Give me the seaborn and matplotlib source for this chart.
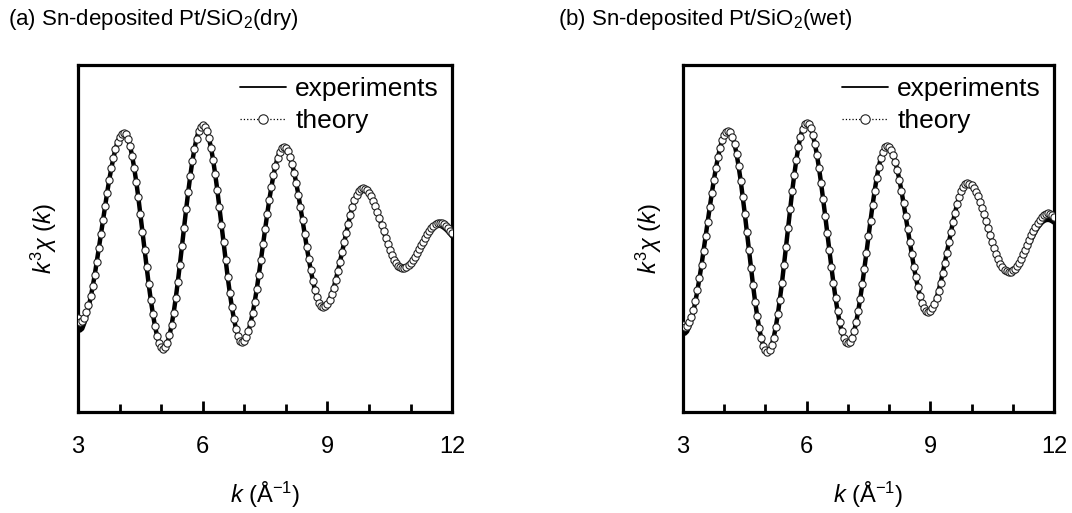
import numpy as np
import matplotlib
matplotlib.use("Agg")
import matplotlib.pyplot as plt
import seaborn as sns

# k grid of the spectra (0.05 A^-1 steps, 3 -> 12)
k_values = np.linspace(3.0, 12.0, 181)

# k^3 chi(k), arbitrary units (0 = bottom of frame, 100 = top)
dry_theory = [
    27.0, 26.0, 26.3, 27.2, 28.7, 30.7, 33.3, 36.3, 39.6, 43.3,
    47.2, 51.2, 55.3, 59.3, 63.2, 66.9, 70.2, 73.2, 75.8, 77.8,
    79.3, 80.2, 80.5, 80.1, 78.8, 76.7, 73.9, 70.4, 66.4, 61.9,
    57.0, 51.9, 46.8, 41.7, 36.8, 32.3, 28.3, 24.8, 22.0, 19.9,
    18.6, 18.2, 18.6, 19.9, 22.1, 25.0, 28.6, 32.8, 37.5, 42.5,
    47.8, 53.1, 58.4, 63.4, 68.1, 72.3, 75.9, 78.8, 80.9, 82.3,
    82.7, 82.3, 81.0, 78.9, 76.1, 72.6, 68.5, 64.0, 59.1, 54.0,
    48.9, 43.8, 38.9, 34.4, 30.3, 26.8, 24.0, 21.9, 20.6, 20.2,
    20.5, 21.6, 23.3, 25.6, 28.4, 31.8, 35.5, 39.6, 43.9, 48.3,
    52.7, 57.0, 61.1, 64.8, 68.2, 71.0, 73.3, 75.0, 76.1, 76.4,
    76.1, 75.2, 73.6, 71.5, 69.0, 65.9, 62.6, 59.0, 55.3, 51.4,
    47.7, 44.1, 40.8, 37.7, 35.2, 33.0, 31.5, 30.6, 30.3, 30.5,
    31.2, 32.4, 33.9, 35.8, 38.1, 40.6, 43.2, 46.0, 48.9, 51.7,
    54.3, 56.8, 59.1, 61.0, 62.5, 63.7, 64.4, 64.6, 64.4, 64.0,
    63.2, 62.2, 60.9, 59.4, 57.7, 55.9, 54.0, 52.1, 50.2, 48.4,
    46.7, 45.2, 43.9, 42.9, 42.1, 41.7, 41.5, 41.6, 41.9, 42.4,
    43.0, 43.8, 44.8, 45.8, 46.9, 48.0, 49.1, 50.2, 51.3, 52.2,
    53.0, 53.6, 54.1, 54.4, 54.5, 54.4, 54.1, 53.6, 53.0, 52.3,
    51.6,
]
dry_exp = [
    24.5, 23.5, 24.0, 25.6, 27.6, 30.0, 32.8, 36.0, 39.4, 43.2,
    47.2, 51.2, 55.3, 59.3, 63.2, 66.9, 70.2, 73.2, 75.8, 77.8,
    79.3, 80.2, 80.5, 80.1, 78.8, 76.7, 73.9, 70.4, 66.4, 61.9,
    57.0, 51.9, 46.8, 41.7, 36.8, 32.3, 28.3, 24.8, 22.0, 19.9,
    18.6, 18.2, 18.6, 19.9, 22.1, 25.0, 28.6, 32.8, 37.5, 42.5,
    47.8, 53.1, 58.4, 63.4, 68.1, 72.3, 75.9, 78.8, 80.9, 82.3,
    82.7, 82.3, 81.0, 78.9, 76.1, 72.6, 68.5, 64.0, 59.1, 54.0,
    48.9, 43.8, 38.9, 34.4, 30.3, 26.8, 24.0, 21.9, 20.6, 20.2,
    20.5, 21.6, 23.3, 25.6, 28.4, 31.8, 35.5, 39.6, 43.9, 48.3,
    52.7, 57.0, 61.1, 64.8, 68.2, 71.0, 73.3, 75.0, 76.1, 76.4,
    76.1, 75.2, 73.6, 71.5, 69.0, 65.9, 62.6, 59.0, 55.3, 51.4,
    47.7, 44.1, 40.8, 37.7, 35.2, 33.0, 31.5, 30.6, 30.3, 30.5,
    31.2, 32.4, 33.9, 35.8, 38.1, 40.6, 43.2, 46.0, 48.9, 51.7,
    54.3, 56.8, 59.1, 61.0, 62.5, 63.7, 64.4, 64.6, 64.4, 64.0,
    63.2, 62.2, 60.9, 59.4, 57.7, 55.9, 54.0, 52.1, 50.2, 48.4,
    46.7, 45.2, 43.9, 42.9, 42.1, 41.7, 41.5, 41.6, 41.9, 42.4,
    42.8, 43.5, 44.4, 45.4, 46.4, 47.5, 48.6, 49.7, 50.7, 51.7,
    52.6, 53.1, 53.5, 53.7, 53.7, 53.5, 53.1, 52.6, 52.0, 51.3,
    50.6,
]
wet_theory = [
    25.1, 24.5, 24.8, 25.8, 27.3, 29.4, 32.1, 35.2, 38.7, 42.5,
    46.5, 50.7, 54.9, 59.1, 63.1, 66.9, 70.4, 73.5, 76.2, 78.3,
    79.8, 80.8, 81.1, 80.7, 79.4, 77.3, 74.4, 70.8, 66.7, 62.0,
    57.1, 51.9, 46.6, 41.4, 36.5, 31.8, 27.7, 24.1, 21.2, 19.1,
    17.8, 17.4, 17.8, 19.2, 21.4, 24.4, 28.1, 32.4, 37.1, 42.3,
    47.7, 53.1, 58.5, 63.7, 68.4, 72.7, 76.4, 79.4, 81.6, 83.0,
    83.4, 83.0, 81.8, 79.9, 77.3, 74.1, 70.3, 66.0, 61.4, 56.6,
    51.6, 46.6, 41.8, 37.2, 32.9, 29.1, 25.9, 23.3, 21.4, 20.2,
    19.8, 20.2, 21.3, 23.2, 25.8, 29.0, 32.7, 36.8, 41.3, 45.9,
    50.6, 55.2, 59.7, 63.8, 67.5, 70.7, 73.3, 75.1, 76.3, 76.7,
    76.4, 75.5, 74.1, 72.1, 69.7, 66.9, 63.7, 60.2, 56.5, 52.8,
    49.1, 45.4, 41.9, 38.8, 35.9, 33.5, 31.5, 30.1, 29.2, 28.9,
    29.2, 29.9, 31.1, 32.8, 34.9, 37.3, 40.0, 42.9, 45.9, 48.9,
    51.9, 54.8, 57.5, 59.9, 62.0, 63.7, 64.9, 65.6, 65.9, 65.7,
    65.3, 64.5, 63.5, 62.2, 60.6, 58.9, 57.1, 55.1, 53.1, 51.1,
    49.1, 47.3, 45.6, 44.1, 42.7, 41.7, 40.9, 40.5, 40.3, 40.4,
    40.8, 41.3, 42.1, 43.0, 44.2, 45.4, 46.7, 48.1, 49.5, 50.9,
    52.2, 53.4, 54.5, 55.4, 56.1, 56.8, 57.2, 57.3, 57.2, 56.8,
    56.2,
]
wet_exp = [
    23.5, 22.6, 23.2, 24.6, 26.5, 28.9, 31.8, 35.0, 38.6, 42.4,
    46.5, 50.7, 54.9, 59.1, 63.1, 66.9, 70.4, 73.5, 76.2, 78.3,
    79.8, 80.8, 81.1, 80.7, 79.4, 77.3, 74.4, 70.8, 66.7, 62.0,
    57.1, 51.9, 46.6, 41.4, 36.5, 31.8, 27.7, 24.1, 21.2, 19.1,
    17.8, 17.4, 17.8, 19.2, 21.4, 24.4, 28.1, 32.4, 37.1, 42.3,
    47.7, 53.1, 58.5, 63.7, 68.4, 72.7, 76.4, 79.4, 81.6, 83.0,
    83.4, 83.0, 81.8, 79.9, 77.3, 74.1, 70.3, 66.0, 61.4, 56.6,
    51.6, 46.6, 41.8, 37.2, 32.9, 29.1, 25.9, 23.3, 21.4, 20.2,
    19.8, 20.2, 21.3, 23.2, 25.8, 29.0, 32.7, 36.8, 41.3, 45.9,
    50.6, 55.2, 59.7, 63.8, 67.5, 70.7, 73.3, 75.1, 76.3, 76.7,
    76.4, 75.5, 74.1, 72.1, 69.7, 66.9, 63.7, 60.2, 56.5, 52.8,
    49.1, 45.4, 41.9, 38.8, 35.9, 33.5, 31.5, 30.1, 29.2, 28.9,
    29.2, 29.9, 31.1, 32.8, 34.9, 37.3, 40.0, 42.9, 45.9, 48.9,
    51.9, 54.8, 57.5, 59.9, 62.0, 63.7, 64.9, 65.6, 65.9, 65.7,
    65.3, 64.5, 63.5, 62.2, 60.6, 58.9, 57.1, 55.1, 53.1, 51.1,
    49.1, 47.3, 45.6, 44.1, 42.7, 41.7, 40.9, 40.5, 40.3, 40.4,
    40.6, 41.0, 41.7, 42.5, 43.5, 44.6, 45.8, 47.1, 48.4, 49.7,
    50.9, 52.0, 53.0, 53.8, 54.5, 55.0, 55.3, 55.4, 55.3, 55.0,
    54.6,
]

panel_titles = ["(a) Sn-deposited Pt/SiO$_2$(dry)", "(b) Sn-deposited Pt/SiO$_2$(wet)"]
major_ticks = [3, 6, 9, 12]
minor_ticks = [4, 5, 7, 8, 10, 11]

sns.set_theme(style="white")
plt.rcParams["font.family"] = ["Liberation Sans", "DejaVu Sans"]
plt.rcParams["mathtext.fontset"] = "custom"
plt.rcParams["mathtext.rm"] = "Liberation Sans"
plt.rcParams["mathtext.it"] = "Liberation Sans:italic"
plt.rcParams["text.color"] = "black"
plt.rcParams["axes.labelcolor"] = "black"
plt.rcParams["xtick.color"] = "black"

fig = plt.figure(figsize=(10.72, 5.13), dpi=100)
ax_a = fig.add_axes([0.0728, 0.197, 0.349, 0.676])
ax_b = fig.add_axes([0.6371, 0.197, 0.3461, 0.676])

panels = [(ax_a, dry_exp, dry_theory), (ax_b, wet_exp, wet_theory)]
for ax, exp_y, th_y in panels:
    sns.lineplot(x=k_values, y=exp_y, ax=ax, color="black", lw=3.2,
                 label="experiments", zorder=2)
    sns.lineplot(x=k_values, y=th_y, ax=ax, color="black", lw=0.9,
                 linestyle=":", marker="o", markersize=5.2,
                 markerfacecolor="white", markeredgecolor="#222222",
                 markeredgewidth=0.8, label="theory", zorder=3)
    ax.set_xlim(3, 12)
    ax.set_ylim(0, 100)
    ax.set_xticks(major_ticks)
    ax.set_xticks(minor_ticks, minor=True)
    ax.set_xticklabels([str(t) for t in major_ticks], fontsize=17)
    ax.set_yticks([])
    ax.tick_params(axis="x", which="major", direction="in", length=8,
                   width=2, pad=17, bottom=True, colors="black")
    ax.tick_params(axis="x", which="minor", direction="in", length=6,
                   width=2, bottom=True, colors="black")
    for sp in ax.spines.values():
        sp.set_visible(True)
        sp.set_color("black")
        sp.set_linewidth(2.3)
    ax.set_xlabel("$k$ (Å$^{-1}$)", fontsize=17, labelpad=16)
    ax.set_ylabel("$k^3\\chi$ ($k$)", fontsize=17, labelpad=14)
    leg = ax.legend(loc="upper right", bbox_to_anchor=(0.965, 0.965),
                    frameon=False, fontsize=19, handlelength=1.75,
                    handletextpad=0.35, labelspacing=0.3, borderpad=0,
                    borderaxespad=0, markerscale=1.3)
    # legend sample for the measured curve is a thin line
    leg.get_lines()[0].set_linewidth(1.3)

fig.text(8 / 1072, 1 - 20 / 513, panel_titles[0], fontsize=16, va="center", ha="left")
fig.text(558 / 1072, 1 - 20 / 513, panel_titles[1], fontsize=16, va="center", ha="left")

fig.savefig("out.png", dpi=100)
